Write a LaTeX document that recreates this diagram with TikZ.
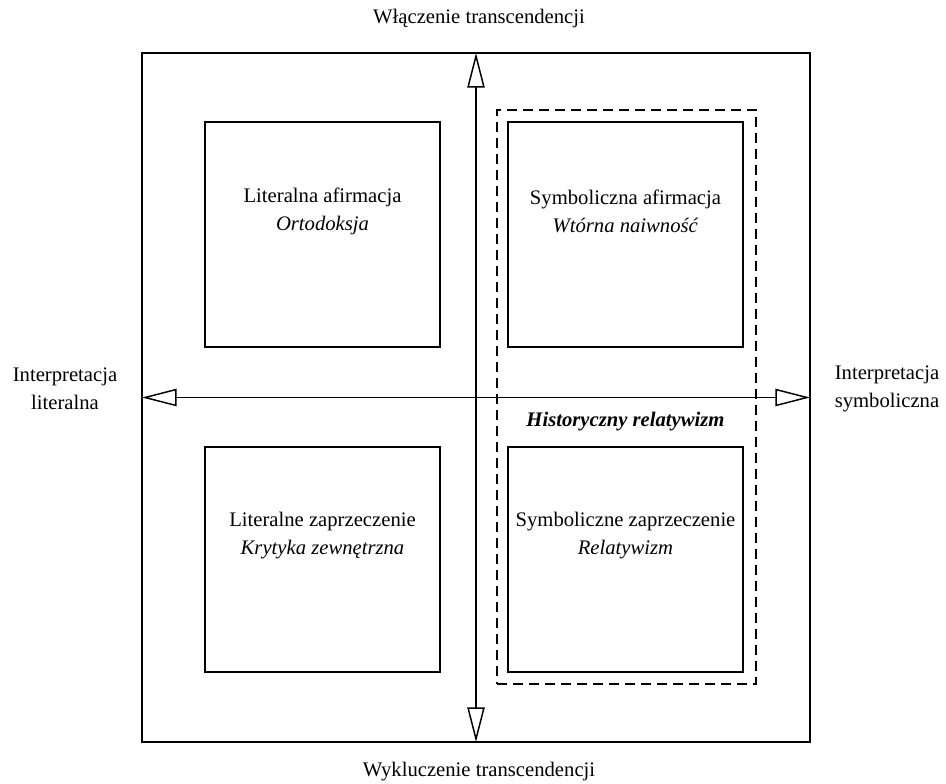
\documentclass[tikz,border=0pt]{standalone}
\usepackage{fontspec}
\setmainfont{Liberation Serif}
\usetikzlibrary{arrows.meta}
\begin{document}
\begin{tikzpicture}[x=0.75pt,y=-0.75pt,
  every node/.style={font=\fontsize{15.5}{21}\selectfont},
  frame/.style={draw, line width=1.4pt, inner sep=0pt, outer sep=0pt},
  quad/.style={draw, line width=0.8pt, inner sep=0pt, outer sep=0pt, minimum width=176.25pt, minimum height=168.75pt},
  group/.style={draw, line width=2pt, dash pattern=on 7.5pt off 4.5pt, inner sep=0pt, outer sep=0pt},
  lbl/.style={align=center, inner sep=0pt},
  axis/.style={line width=1.1pt, {Triangle[open,length=26pt,width=13pt]}-{Triangle[open,length=26pt,width=13pt]}}]
\useasboundingbox (0,0) rectangle (946,784);
% outer frame
\node[frame, minimum width=501pt, minimum height=516.75pt] (outer) at (476,397.5) {};
% dashed group
\node[group, minimum width=194.25pt, minimum height=430.5pt] (grp) at (626.5,397) {};
% quadrants
\node[quad] (tl) at (322.5,234.5) {};
\node[quad] (tr) at (625.5,234.5) {};
\node[quad] (bl) at (322.5,559.5) {};
\node[quad] (br) at (625.5,559.5) {};
% axes
\coordinate (ytop) at (outer.north);
\coordinate (ybot) at (outer.south);
\coordinate (xl) at (outer.west);
\coordinate (xr) at (outer.east);
\draw[axis] (ybot) -- (ytop);
\draw[axis] (xl) -- (xr);
% labels
\node[lbl] (ttop) at (479,19) {Włączenie transcendencji};
\node[lbl] (tbot) at (479,772) {Wykluczenie transcendencji};
\node[lbl] (tleft) at (65,389) {Interpretacja\\literalna};
\node[lbl] (tright) at (887,389) {Interpretacja\\symboliczna};
\node[lbl] (ttl) at (322.5,211) {Literalna afirmacja\\\textit{Ortodoksja}};
\node[lbl] (ttr) at (625.5,211) {Symboliczna afirmacja\\\textit{Wtórna naiwność}};
\node[lbl] (tbl) at (322.5,536) {Literalne zaprzeczenie\\\textit{Krytyka zewnętrzna}};
\node[lbl] (tbr) at (625.5,536) {Symboliczne zaprzeczenie\\\textit{Relatywizm}};
\node[lbl] (thist) at (625.5,422) {\textbf{\textit{Historyczny relatywizm}}};
\end{tikzpicture}
\end{document}
